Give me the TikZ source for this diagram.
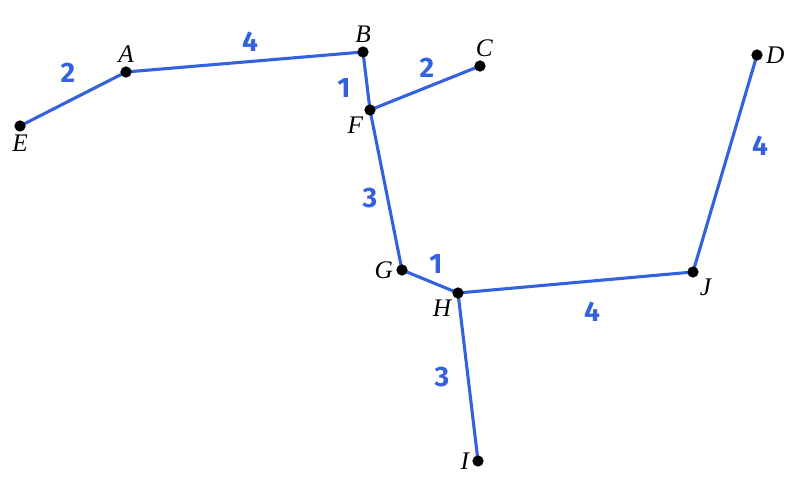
\documentclass[tikz,border=0pt]{standalone}
\usepackage{fontspec}
\setmainfont{Liberation Serif}
\newfontfamily\penfont{Fira Sans}
\usetikzlibrary{backgrounds}
\definecolor{penblue}{RGB}{52,98,222}
\tikzset{
  dot/.style={circle, fill=black, inner sep=0pt, minimum size=8pt},
  wt/.style={font=\penfont\bfseries\fontsize{20}{22}\selectfont, text=penblue, inner sep=0pt},
  edge/.style={draw=penblue, line width=2.2pt}
}
\begin{document}
\begin{tikzpicture}[x=0.025cm, y=-0.025cm,
    every label/.style={font=\fontsize{18}{20}\selectfont\itshape, inner sep=1pt, label distance=1pt}]
  \useasboundingbox (0,0) rectangle (800,485);

  % vertices
  \node[dot, label=below:E] (E) at (20,126) {};
  \node[dot, label=above:A] (A) at (126,72) {};
  \node[dot, label=above:B] (B) at (363,52) {};
  \node[dot, label={[xshift=3pt]above:C}] (C) at (480,66) {};
  \node[dot, label=below left:F] (F) at (370,110) {};
  \node[dot, label=right:D] (D) at (757,55) {};
  \node[dot, label=left:G] (G) at (402,270) {};
  \node[dot, label=below left:H] (H) at (458,293) {};
  \node[dot, label=below right:J] (J) at (693,272) {};
  \node[dot, label=left:I] (I) at (478,461) {};

  % edges with weights
  \begin{scope}[on background layer]
    \draw[edge] (E.center) -- node[wt, shift={(-5,-26)}] {2} (A.center);
    \draw[edge] (A.center) -- node[wt, shift={(5.5,-20)}] {4} (B.center);
    \draw[edge] (B.center) -- node[wt, shift={(-22.5,7)}] {1} (F.center);
    \draw[edge] (F.center) -- node[wt, shift={(2,-20)}] {2} (C.center);
    \draw[edge] (F.center) -- node[wt, shift={(-16,8)}] {3} (G.center);
    \draw[edge] (G.center) -- node[wt, shift={(6,-17.5)}] {1} (H.center);
    \draw[edge] (H.center) -- node[wt, shift={(16.5,29.5)}] {4} (J.center);
    \draw[edge] (J.center) -- node[wt, shift={(35,-17.5)}] {4} (D.center);
    \draw[edge] (H.center) -- node[wt, shift={(-26,0)}] {3} (I.center);
  \end{scope}
\end{tikzpicture}
\end{document}
